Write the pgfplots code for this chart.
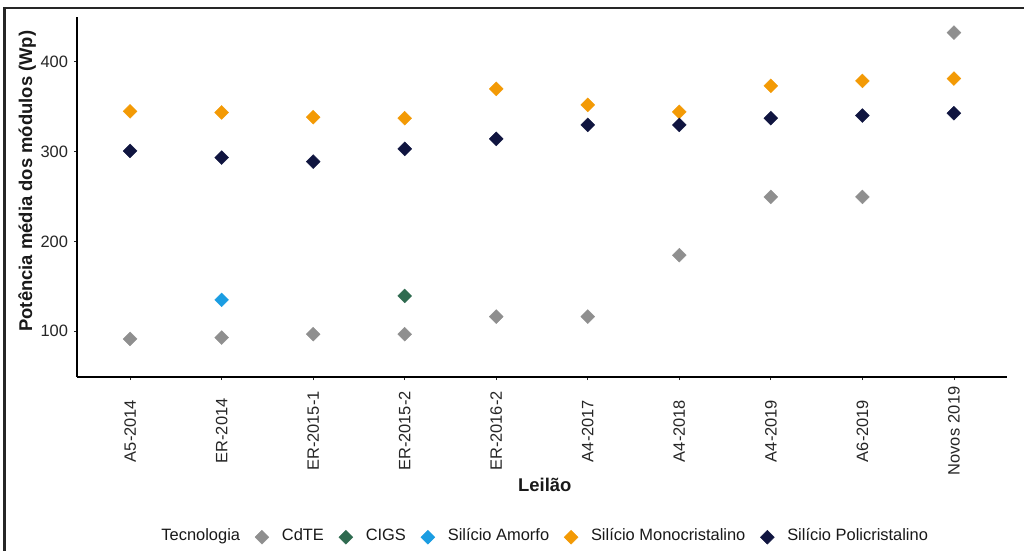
\documentclass[border=0pt]{standalone}
\usepackage{fontspec}
\setmainfont{Liberation Sans}
\usepackage{pgfplots}
\pgfplotsset{compat=1.18}
\definecolor{cdte}{HTML}{8F8F8F}
\definecolor{cigs}{HTML}{2F6B50}
\definecolor{amorfo}{HTML}{1B9DE2}
\definecolor{mono}{HTML}{F39A05}
\definecolor{poli}{HTML}{101540}
\definecolor{tickgray}{HTML}{262626}
\begin{document}
\begin{tikzpicture}
\useasboundingbox (0,0) rectangle (1024bp,551bp);
\fill[white] (0,0) rectangle (1024bp,551bp);
\draw[line width=2.5bp, black!85] (4.7bp,-5bp) -- (4.7bp,543bp) -- (1030bp,543bp);
\begin{axis}[
  at={(77bp,174bp)}, anchor=south west,
  scale only axis, width=930bp, height=360bp,
  xmin=-0.58, xmax=9.58, ymin=49, ymax=450,
  axis x line*=bottom, axis y line*=left,
  axis line style={-, black, line width=1.3bp},
  xtick={0,...,9},
  xticklabels={A5-2014,ER-2014,ER-2015-1,ER-2015-2,ER-2016-2,A4-2017,A4-2018,A4-2019,A6-2019,Novos 2019},
  ytick={100,200,300,400},
  tick align=outside, major tick length=3bp,
  tick style={tickgray, line width=0.8bp},
  /pgf/number format/assume math mode=true,
  ticklabel style={font=\fontsize{16.5}{19}\selectfont, text=tickgray},
  xticklabel style={rotate=90, anchor=east, text width=90bp, align=center, inner sep=0pt, outer xsep=6bp},
  yticklabel style={anchor=east, inner sep=0pt, outer xsep=6bp},
  xlabel={Leilão},
  ylabel={Potência média dos módulos (Wp)},
  label style={font=\bfseries\fontsize{18.5}{22}\selectfont, text=black!90},
  xlabel style={at={(axis description cs:0.503,-0.30)}, anchor=center},
  ylabel style={at={(axis description cs:-0.0535,0.544)}, anchor=center},
  legend columns=-1,
  legend style={at={(axis description cs:0.497,-0.445)}, anchor=center, draw=none, fill=none,
    font=\fontsize{16.5}{19}\selectfont, text=black!90,
    nodes={text height=1.5ex, text depth=0.4ex},
    /tikz/every odd column/.append style={column sep=11bp},
    /tikz/every even column/.append style={column sep=13bp}},
  mk/.style={only marks, mark=square*, mark size=4.9bp, mark options={rotate=45, draw=#1, fill=#1}, color=#1},
]
\addlegendimage{empty legend}
\addlegendentry{Tecnologia}
\addplot[mk=cdte] table {
x y
0 91.4
1 92.9
2 96.7
3 96.7
4 116.3
5 116.3
6 184.7
7 249.6
8 249.6
9 432.6
};
\addlegendentry{CdTE}
\addplot[mk=cigs] table {
x y
3 139.3
};
\addlegendentry{CIGS}
\addplot[mk=amorfo] table {
x y
1 134.9
};
\addlegendentry{Silício Amorfo}
\addplot[mk=mono] table {
x y
0 344.9
1 343.7
2 338.4
3 337.3
4 369.9
5 352.1
6 344.3
7 373.3
8 378.8
9 381.4
};
\addlegendentry{Silício Monocristalino}
\addplot[mk=poli] table {
x y
0 300.8
1 293.4
2 288.9
3 303.1
4 314.2
5 329.8
6 329.8
7 337.3
8 340.2
9 342.8
};
\addlegendentry{Silício Policristalino}
\end{axis}
\end{tikzpicture}
\end{document}
